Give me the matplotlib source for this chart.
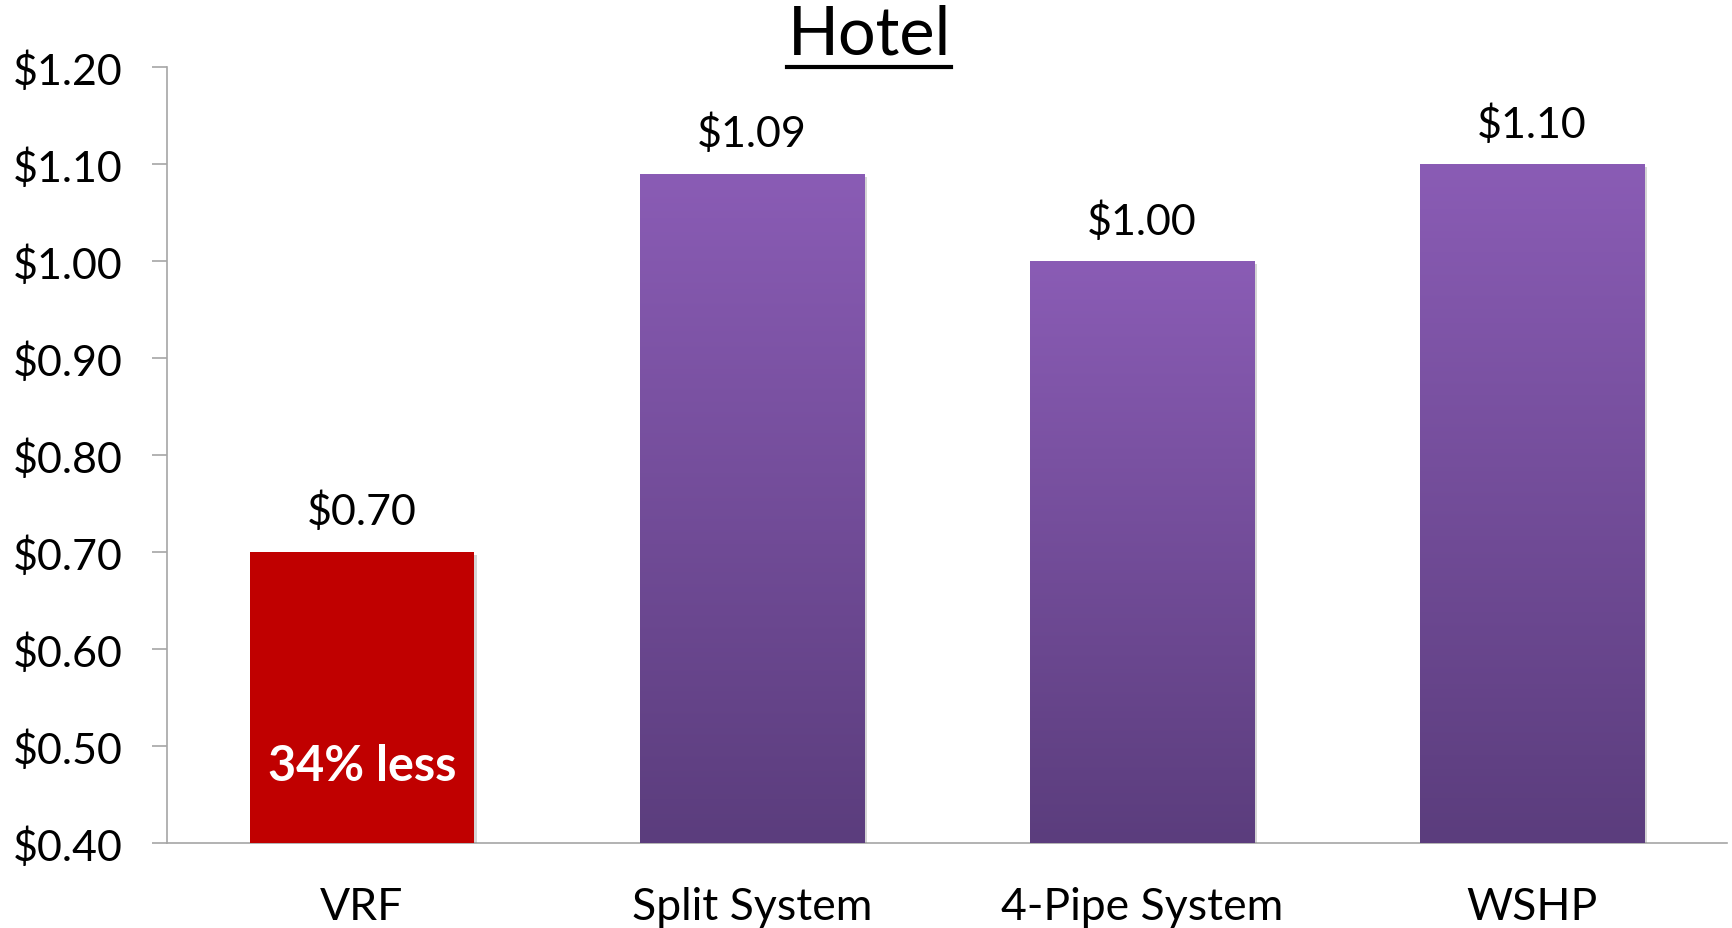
import numpy as np
import matplotlib.pyplot as plt
import matplotlib.patheffects as pe
from matplotlib.colors import LinearSegmentedColormap
from matplotlib.lines import Line2D

systems = ["VRF", "Split System", "4-Pipe System", "WSHP"]
cost = [0.70, 1.09, 1.00, 1.10]
value_labels = ["$0.70", "$1.09", "$1.00", "$1.10"]
yticks = [0.40, 0.50, 0.60, 0.70, 0.80, 0.90, 1.00, 1.10, 1.20]
note = "34% less"

plt.rcParams['font.family'] = ['Lato', 'DejaVu Sans']

fig = plt.figure(figsize=(17.33, 9.29), dpi=100)
ax = fig.add_axes([0.0964, 0.0915, 0.9001, 0.8348])

x = np.arange(len(systems))
shadow = [pe.SimplePatchShadow(offset=(2, -2), shadow_rgbFace='#888888', alpha=0.35),
          pe.Normal()]
bars = ax.bar(x, cost, width=0.575, color=['#C00000', '#704C9A', '#704C9A', '#704C9A'],
              edgecolor='none', zorder=3)
for b in bars:
    b.set_path_effects(shadow)

ax.set_xlim(-0.5, 3.5)
ax.set_ylim(0.40, 1.20)

# purple bars get a vertical gradient clipped to the bar shape
purple = LinearSegmentedColormap.from_list('purp', ['#5B3D7D', '#8A5CB5'])
grad = np.linspace(0, 1, 256).reshape(-1, 1)
for b in bars[1:]:
    x0, w, h = b.get_x(), b.get_width(), b.get_height()
    im = ax.imshow(grad, cmap=purple, origin='lower', aspect='auto',
                   extent=[x0, x0 + w, 0.40, h], zorder=4)
    im.set_clip_path(b)
ax.set_xlim(-0.5, 3.5)
ax.set_ylim(0.40, 1.20)

for xi, v, lab in zip(x, cost, value_labels):
    ax.annotate(lab, (xi, v), xytext=(0, 15), textcoords='offset points',
                ha='center', va='bottom', fontsize=31, color='black')

ax.text(x[0], 0.48, note, ha='center', va='center', fontsize=35,
        fontweight='bold', color='white', zorder=5)

ax.set_yticks(yticks)
ax.set_yticklabels(["$%.2f" % t for t in yticks], fontsize=31)
ax.set_xticks(x)
ax.set_xticklabels(systems, fontsize=32)
ax.tick_params(axis='x', length=0, pad=31)
ax.tick_params(axis='y', length=11, width=1.2, color='#A6A6A6', pad=21)

for s in ['top', 'right']:
    ax.spines[s].set_visible(False)
for s in ['left', 'bottom']:
    ax.spines[s].set_color('#A6A6A6')
    ax.spines[s].set_linewidth(1.2)

title = fig.text(0.5015, 0.962, "Hotel", ha='center', va='center', fontsize=48)
fig.canvas.draw()
bb = title.get_window_extent().transformed(fig.transFigure.inverted())
fig.add_artist(Line2D([bb.x0, bb.x1], [bb.y0 - 0.002, bb.y0 - 0.002],
                      transform=fig.transFigure, color='black', lw=3))

fig.savefig('out.png', dpi=100)
